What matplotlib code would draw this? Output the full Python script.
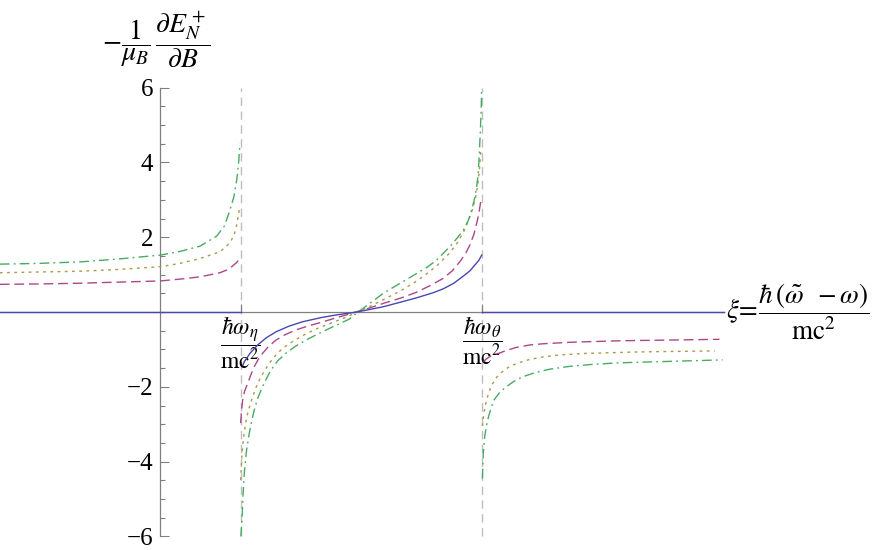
import matplotlib.pyplot as plt
from matplotlib.ticker import FixedLocator

plt.rcParams['font.family'] = ['Liberation Serif', 'DejaVu Serif']
plt.rcParams['mathtext.fontset'] = 'stix'

# resonance positions on the xi axis
xi_eta = 1.0
xi_theta = 4.0

# blue, solid
blue_left_x = [-2.0, 1.0]
blue_left_y = [0.0, 0.0]
blue_mid_x = [1.031, 1.047, 1.12, 1.214, 1.32, 1.441, 1.6, 1.773, 2.0, 2.186, 2.447,
              2.774, 3.0, 3.189, 3.4, 3.519, 3.65, 3.768, 3.85, 3.913, 3.96, 3.996]
blue_mid_y = [-1.42, -1.33, -1.1, -0.88, -0.69, -0.53, -0.38, -0.26, -0.15, -0.08, 0.0,
              0.14, 0.27, 0.38, 0.52, 0.62, 0.77, 0.96, 1.1, 1.26, 1.38, 1.52]
blue_right_x = [4.0, 7.0]
blue_right_y = [0.0, 0.0]

# purple, dashed
purple_left_x = [-1.99, -1.5, -0.99, -0.5, 0.0, 0.25, 0.497, 0.745, 0.85, 0.907, 0.95, 0.985]
purple_left_y = [0.74, 0.75, 0.77, 0.8, 0.83, 0.88, 0.94, 1.05, 1.14, 1.24, 1.32, 1.41]
purple_mid_x = [1.002, 1.012, 1.027, 1.05, 1.089, 1.13, 1.171, 1.22, 1.276, 1.35, 1.441, 1.56,
                1.689, 1.83, 1.979, 2.15, 2.311, 2.43, 2.55, 2.774, 3.0, 3.189, 3.35,
                3.519, 3.63, 3.727, 3.8, 3.851, 3.9, 3.934, 3.96, 3.984]
purple_mid_y = [-2.97, -2.65, -2.35, -2.12, -1.91, -1.67, -1.46, -1.27, -1.1, -0.92, -0.75, -0.6,
                -0.48, -0.38, -0.29, -0.18, -0.08, 0.0, 0.07, 0.23, 0.38, 0.53, 0.7,
                0.9, 1.1, 1.35, 1.58, 1.8, 2.08, 2.37, 2.62, 2.95]
purple_right_x = [4.016, 4.05, 4.1, 4.15, 4.215, 4.3, 4.422, 4.596, 4.754, 5.093, 5.375,
                  5.714, 5.996, 6.335, 6.95]
purple_right_y = [-1.33, -1.26, -1.19, -1.14, -1.1, -1.03, -0.95, -0.88, -0.85, -0.81, -0.79,
                  -0.77, -0.76, -0.75, -0.73]

# gold, dotted
gold_left_x = [-1.99, -1.5, -0.99, -0.5, 0.0, 0.25, 0.497, 0.745, 0.87, 0.92, 0.953, 0.985]
gold_left_y = [1.05, 1.07, 1.09, 1.14, 1.21, 1.3, 1.43, 1.61, 1.85, 2.06, 2.33, 2.73]
gold_mid_x = [1.002, 1.015, 1.035, 1.06, 1.089, 1.12, 1.152, 1.19, 1.234, 1.29, 1.358, 1.44,
              1.524, 1.64, 1.773, 1.92, 2.062, 2.311, 2.45, 2.6, 2.774, 3.0, 3.189, 3.3,
              3.44, 3.6, 3.7, 3.79, 3.87, 3.92, 3.95, 3.97, 3.984]
gold_mid_y = [-4.49, -3.9, -3.42, -3.02, -2.71, -2.47, -2.26, -2.03, -1.82, -1.6, -1.37, -1.15,
              -0.97, -0.8, -0.63, -0.47, -0.35, -0.14, 0.0, 0.14, 0.33, 0.58, 0.83, 1.0,
              1.24, 1.58, 1.87, 2.22, 2.66, 3.06, 3.44, 3.85, 4.29]
gold_right_x = [4.005, 4.02, 4.04, 4.07, 4.11, 4.17, 4.25, 4.34, 4.45, 4.59, 4.76, 4.96, 5.25,
                5.58, 5.9, 6.2, 6.89]
gold_right_y = [-3.05, -2.78, -2.5, -2.26, -2.0, -1.77, -1.6, -1.46, -1.36, -1.27, -1.2, -1.15,
                -1.11, -1.09, -1.07, -1.06, -1.04]

# green, dash-dot
green_left_x = [-1.99, -1.5, -0.99, -0.5, 0.0, 0.25, 0.497, 0.704, 0.8, 0.87, 0.92, 0.953, 0.975,
                0.994]
green_left_y = [1.28, 1.3, 1.34, 1.42, 1.52, 1.62, 1.76, 2.03, 2.3, 2.73, 3.1, 3.53, 3.95, 4.5]
green_mid_x = [1.005, 1.012, 1.019, 1.03, 1.047, 1.075, 1.109, 1.14, 1.171, 1.21, 1.255, 1.31,
               1.379, 1.46, 1.565, 1.68, 1.814, 1.95, 2.103, 2.352, 2.46, 2.6, 2.774, 3.0,
               3.189, 3.32, 3.437, 3.602, 3.7, 3.768, 3.83, 3.872, 3.91, 3.934, 3.955, 3.966,
               3.978, 3.988, 3.996]
green_mid_y = [-6.0, -5.75, -5.56, -4.95, -4.31, -3.7, -3.24, -2.9, -2.62, -2.33, -2.09, -1.83,
               -1.55, -1.31, -1.1, -0.92, -0.75, -0.6, -0.44, -0.19, 0.0, 0.22, 0.5, 0.79,
               1.03, 1.2, 1.39, 1.75, 2.0, 2.19, 2.45, 2.73, 3.05, 3.35, 3.75, 4.24, 4.75,
               5.31, 5.94]
green_right_x = [4.005, 4.016, 4.035, 4.07, 4.11, 4.15, 4.22, 4.3, 4.4, 4.51, 4.66, 4.84, 5.1,
                 5.375, 5.7, 6.0, 6.5, 6.99]
green_right_y = [-4.45, -3.78, -3.3, -2.89, -2.58, -2.35, -2.15, -2.0, -1.85, -1.73, -1.62, -1.53,
                 -1.45, -1.4, -1.36, -1.34, -1.31, -1.28]

yticks = [-6, -4, -2, 2, 4, 6]
yticklabels = ['\u22126', '\u22124', '\u22122', '2', '4', '6']
yminor = [k / 2 for k in range(-12, 13)]

c_blue = '#4848b0'
c_purple = '#ad468c'
c_gold = '#ab984c'
c_green = '#48ab62'
c_axis = '#808080'

fig = plt.figure(figsize=(8.72, 5.5), dpi=100)
ax = fig.add_axes([0, 0, 1, 1])
ax.set_xlim(-160 / 80.5, (872 - 160) / 80.5)
ax.set_ylim((312 - 550) / 37.4, 312 / 37.4)
ax.patch.set_visible(False)

# dashed guide lines at the resonances
for xv in (xi_eta, xi_theta):
    ax.plot([xv, xv], [-6, 6], color='#bdbdbd', lw=1.0, dashes=(6, 4), zorder=1)

lw = 1.0
for xs, ys in ((blue_left_x, blue_left_y), (blue_mid_x, blue_mid_y), (blue_right_x, blue_right_y)):
    ax.plot(xs, ys, color=c_blue, lw=lw, zorder=4)
for xs, ys in ((purple_left_x, purple_left_y), (purple_mid_x, purple_mid_y),
               (purple_right_x, purple_right_y)):
    ax.plot(xs, ys, color=c_purple, lw=lw, dashes=(7, 3.5), zorder=3)
for xs, ys in ((gold_left_x, gold_left_y), (gold_mid_x, gold_mid_y), (gold_right_x, gold_right_y)):
    ax.plot(xs, ys, color=c_gold, lw=lw, dashes=(2, 3.2), zorder=3)
for xs, ys in ((green_left_x, green_left_y), (green_mid_x, green_mid_y),
               (green_right_x, green_right_y)):
    ax.plot(xs, ys, color=c_green, lw=lw, dashes=(7, 3, 1.3, 3), zorder=3)

# axes through the origin
for s in ('top', 'right'):
    ax.spines[s].set_visible(False)
ax.spines['left'].set_position(('data', 0))
ax.spines['bottom'].set_position(('data', 0))
ax.spines['left'].set_bounds(-6, 6)
ax.spines['bottom'].set_bounds(-2, 7)
for s in ('left', 'bottom'):
    ax.spines[s].set_color(c_axis)
    ax.spines[s].set_linewidth(0.9)
    ax.spines[s].set_zorder(2)

ax.yaxis.set_major_locator(FixedLocator(yticks))
ax.yaxis.set_minor_locator(FixedLocator(yminor))
ax.set_yticklabels(yticklabels)
ax.tick_params(axis='y', which='major', direction='in', length=6.5, width=0.8,
               color=c_axis, labelsize=18, pad=5)
ax.tick_params(axis='y', which='minor', direction='in', length=3.8, width=0.8, color=c_axis)

ax.xaxis.set_major_locator(FixedLocator([xi_eta, xi_theta]))
ax.set_xticklabels([r'$\dfrac{\hbar\omega_\eta}{\mathrm{mc}^2}$',
                    r'$\dfrac{\hbar\omega_\theta}{\mathrm{mc}^2}$'])
ax.tick_params(axis='x', which='major', direction='in', length=6, width=0.8,
               color=c_axis, labelsize=17, pad=2)

ax.text(7.03, 0, r'$\xi\!=\!\dfrac{\hbar\,(\tilde{\omega}\;\;-\omega)}{\mathrm{mc}^2}$',
        fontsize=19.5, ha='left', va='center')
ax.text(-0.04, 7.28, r'$-\dfrac{1}{\mu_B}\,\dfrac{\partial E_N^+}{\partial B}$',
        fontsize=20, ha='center', va='center')

fig.savefig('out.png', dpi=100)
